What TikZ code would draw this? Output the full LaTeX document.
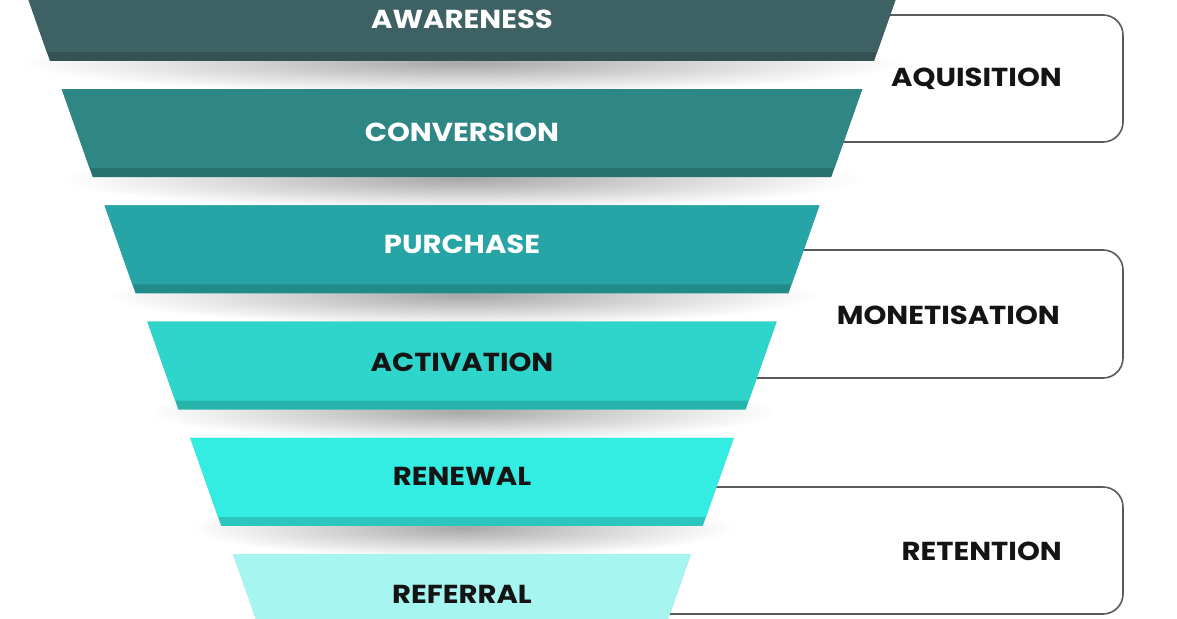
\documentclass[tikz,border=0pt]{standalone}
\usepackage{fontspec}
\setmainfont{Poppins}[FakeStretch=1.12]
\usetikzlibrary{positioning}
\definecolor{tealA}{HTML}{3E6163}
\definecolor{tealB}{HTML}{2F8785}
\definecolor{tealC}{HTML}{27A4A6}
\definecolor{tealD}{HTML}{2DD5CB}
\definecolor{tealE}{HTML}{33ECE2}
\definecolor{tealF}{HTML}{A6F5F1}
\definecolor{ink}{HTML}{141414}
\definecolor{frame}{HTML}{5A5A5A}

\begin{document}
\begin{tikzpicture}[
		x=1pt,y=-1pt,
		face/.style={fill=#1},
		lip/.style={fill=#1!84!black},
		stage/.style={font=\bfseries\fontsize{26}{30}\selectfont,text=#1,inner sep=0pt},
		group/.style={draw=frame,line width=1.6pt,rounded corners=20pt},
		grouplabel/.style={font=\bfseries\fontsize{26}{30}\selectfont,text=ink,anchor=east,inner sep=0pt}
		]
		\useasboundingbox (0,0) rectangle (1177,618);
		
		% the boxes round the groups, behind the funnel
		\draw[group] (800,15) -- (1123,15) -- (1123,142) -- (800,142);
		\draw[group] (700,250) -- (1123,250) -- (1123,378) -- (700,378);
		\draw[group] (600,487) -- (1123,487) -- (1123,614) -- (600,614);
		\node[grouplabel] (aquisition) at (1062,79) {AQUISITION};
		\node[grouplabel] (monetisation) at (1060,315) {MONETISATION};
		\node[grouplabel] (retention) at (1062,551) {RETENTION};
		
		% the funnel layers
		\foreach \i/\name/\txt/\col/\tc/\ty in {
				0/awareness/AWARENESS/tealA/white/19,
				1/conversion/CONVERSION/tealB/white/132,
				2/purchase/PURCHASE/tealC/white/244,
				3/activation/ACTIVATION/tealD/ink/362,
				4/renewal/RENEWAL/tealE/ink/476,
				5/referral/REFERRAL/tealF/ink/594}{
			\pgfmathsetmacro\T{-27+116.2*\i}
			\pgfmathsetmacro\B{\T+88}
			\pgfmathsetmacro\S{\B-9}
			\pgfmathsetmacro\L{19+42.8*\i}
			\pgfmathsetmacro\R{924-\L}
			\pgfmathsetmacro\W{(\R-\L)/2}
			% soft shadow under the layer
			\shade[inner color=black!34,outer color=white] (462,\B+2) ellipse [x radius=\W pt,y radius=30pt];
			\fill[lip=\col] (\L,\T) -- (\R,\T) -- (\R-31,\B) -- (\L+31,\B) -- cycle;
			\fill[face=\col] (\L,\T) -- (\R,\T) -- (\R-27.8,\S) -- (\L+27.8,\S) -- cycle;
			\node[stage=\tc] (\name) at (462,\ty) {\txt};
		}
\end{tikzpicture}
\end{document}
